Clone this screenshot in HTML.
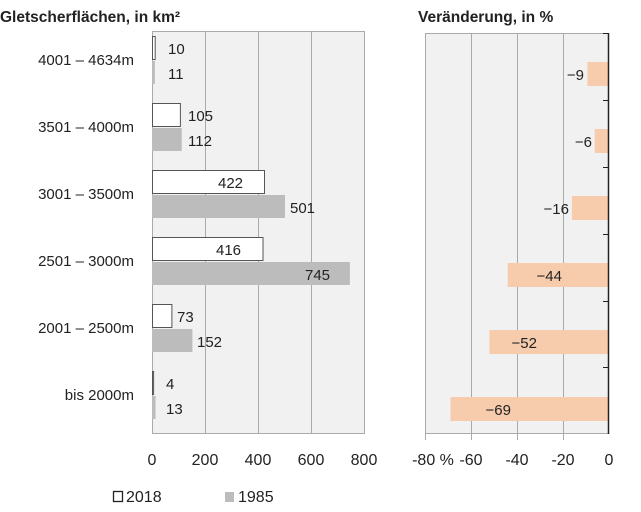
<!DOCTYPE html>
<html><head><meta charset="utf-8"><style>
html,body{margin:0;padding:0;background:#fff;}
svg{display:block;font-family:"Liberation Sans",sans-serif;}
</style></head><body>
<svg width="641" height="512" viewBox="0 0 641 512" xmlns="http://www.w3.org/2000/svg">
<text x="0" y="22" font-size="15.5" font-weight="bold" fill="#222">Gletscherflächen, in km²</text>
<text x="418" y="22" font-size="15.5" font-weight="bold" fill="#222">Veränderung, in %</text>
<rect x="152.5" y="31.5" width="212" height="402" fill="#f1f1f1" stroke="#aaa"/>
<g stroke="#aaa"><line x1="205.5" y1="31" x2="205.5" y2="433"/><line x1="258.5" y1="31" x2="258.5" y2="433"/><line x1="311.5" y1="31" x2="311.5" y2="433"/></g>
<rect x="425.5" y="33.5" width="183" height="400" fill="#f1f1f1" stroke="#aaa"/>
<g stroke="#aaa"><line x1="471.5" y1="33" x2="471.5" y2="434"/><line x1="517.5" y1="33" x2="517.5" y2="434"/><line x1="563.5" y1="33" x2="563.5" y2="434"/>
<line x1="425.5" y1="434" x2="425.5" y2="440"/><line x1="471.5" y1="434" x2="471.5" y2="440"/><line x1="517.5" y1="434" x2="517.5" y2="440"/><line x1="563.5" y1="434" x2="563.5" y2="440"/></g>
<g font-size="15" fill="#222">
<g text-anchor="end">
<text x="134" y="65">4001 – 4634m</text>
<text x="134" y="132">3501 – 4000m</text>
<text x="134" y="199">3001 – 3500m</text>
<text x="134" y="266">2501 – 3000m</text>
<text x="134" y="333">2001 – 2500m</text>
<text x="134" y="400">bis 2000m</text>
</g>
<g fill="#fff" stroke="#555">
<rect x="152.5" y="36.5" width="2.7" height="23"/>
<rect x="152.5" y="103.5" width="27.9" height="23"/>
<rect x="152.5" y="170.5" width="112" height="23"/>
<rect x="152.5" y="237.5" width="110.5" height="23"/>
<rect x="152.5" y="304.5" width="19.4" height="23"/>
<rect x="152.5" y="371.5" width="1.1" height="23"/>
</g>
<g fill="#bcbcbc">
<rect x="152" y="61" width="2.9" height="23"/>
<rect x="152" y="128" width="29.7" height="23"/>
<rect x="152" y="195" width="133" height="23"/>
<rect x="152" y="262" width="197.9" height="23"/>
<rect x="152" y="329" width="40.4" height="23"/>
<rect x="152" y="396" width="3.5" height="23"/>
</g>
<text x="168" y="54">10</text><text x="168" y="79">11</text>
<text x="188" y="121">105</text><text x="188" y="146">112</text>
<text x="218" y="188">422</text><text x="290" y="213">501</text>
<text x="216" y="255">416</text><text x="305" y="280">745</text>
<text x="177" y="322">73</text><text x="197" y="347">152</text>
<text x="166" y="389">4</text><text x="166" y="414">13</text>
<g fill="#f7ccad">
<rect x="587.4" y="62" width="21.1" height="24"/>
<rect x="594.7" y="129" width="13.8" height="24"/>
<rect x="571.9" y="196" width="36.6" height="24"/>
<rect x="507.7" y="263" width="100.8" height="24"/>
<rect x="489.4" y="330" width="119.1" height="24"/>
<rect x="450.5" y="397" width="158" height="24"/>
</g>
<line x1="608.5" y1="33" x2="608.5" y2="434" stroke="#222" stroke-width="1.5"/>
<g stroke="#222"><line x1="603" y1="33.5" x2="609" y2="33.5"/><line x1="603" y1="100.5" x2="609" y2="100.5"/><line x1="603" y1="167.5" x2="609" y2="167.5"/><line x1="603" y1="234.5" x2="609" y2="234.5"/><line x1="603" y1="301.5" x2="609" y2="301.5"/><line x1="603" y1="367.5" x2="609" y2="367.5"/></g>
<g text-anchor="end">
<text x="584" y="80">−9</text>
<text x="592" y="147">−6</text>
<text x="569" y="214">−16</text>
<text x="562" y="281">−44</text>
<text x="537" y="348">−52</text>
<text x="511" y="415">−69</text>
</g>
<g text-anchor="middle" font-size="16">
<text x="152" y="465">0</text><text x="205" y="465">200</text><text x="258" y="465">400</text><text x="311" y="465">600</text><text x="364" y="465">800</text>
<text x="433" y="465">-80 %</text><text x="471" y="465">-60</text><text x="517" y="465">-40</text><text x="563" y="465">-20</text><text x="609" y="465">0</text>
</g>
<rect x="113.5" y="491.5" width="9" height="10" fill="#fff" stroke="#222" stroke-width="1.3"/>
<text x="126" y="502" font-size="16">2018</text>
<rect x="225" y="492" width="9" height="10" fill="#bcbcbc"/>
<text x="238" y="502" font-size="16">1985</text>
</g>
</svg>
</body></html>
